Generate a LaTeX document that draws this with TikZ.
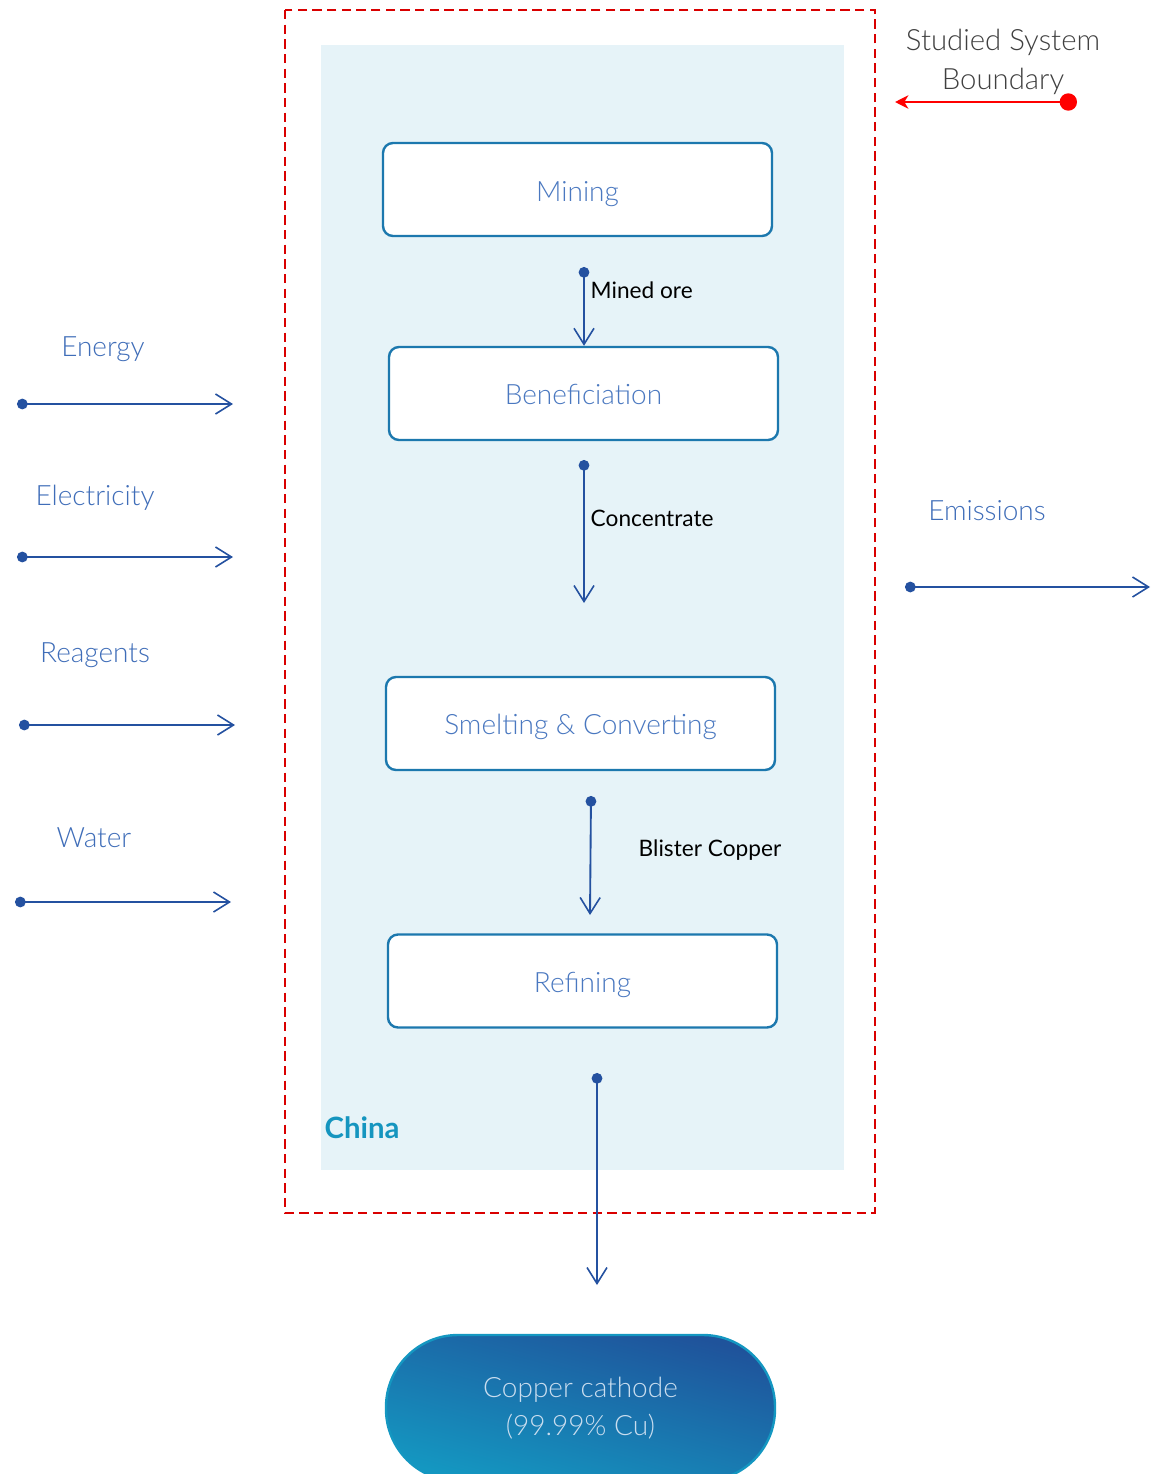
\documentclass[tikz,border=0pt]{standalone}
\usepackage{fontspec}
\setmainfont{Lato}
\newfontfamily\lightfont{Lato Light}
\usetikzlibrary{arrows.meta}
\definecolor{flowblue}{HTML}{2451A0}
\definecolor{labelblue}{HTML}{3F6DB8}
\definecolor{boxtext}{HTML}{4A78C0}
\definecolor{boxedge}{HTML}{1C78AE}
\definecolor{zonefill}{HTML}{E6F3F8}
\definecolor{chinateal}{HTML}{1595BF}
\definecolor{cathtop}{HTML}{1F539B}
\definecolor{cathbot}{HTML}{1497C1}
\definecolor{cathtext}{HTML}{C9DDEF}
\begin{document}
\begin{tikzpicture}[x=0.75pt,y=-0.75pt,
  stagebox/.style={draw=boxedge, line width=1.8pt, fill=white, rounded corners=7.5pt,
    minimum width=291.75pt, minimum height=69.75pt, text=boxtext,
    text height=17pt, text depth=0pt,
    font=\lightfont\fontsize{21}{25}\selectfont},
  flow/.style={draw=flowblue, line width=1.4pt,
    {Circle[length=8pt]}-{Straight Barb[length=12pt,width=15pt,line width=1.2pt]}},
  inlabel/.style={text=labelblue, font=\lightfont\fontsize{21}{25}\selectfont},
  steplabel/.style={text=black, anchor=west, font=\fontsize{17}{20}\selectfont}]
\useasboundingbox (0,0) rectangle (1157,1474);

% system region and its boundary
\fill[zonefill] (321,45) rectangle (844,1170);
\draw[red!85!black, line width=1.5pt, dash pattern=on 7pt off 4pt] (285,10) rectangle (875,1213);
\node[anchor=west, text=chinateal, font=\bfseries\fontsize{22}{26}\selectfont] (china) at (320,1128) {China};

% process stages
\node[stagebox, text height=18pt] (mining) at (577.5,189.5) {Mining};
\node[stagebox] (benef) at (583.5,393.5) {Beneficiation};
\node[stagebox] (smelt) at (580.5,723.5) {Smelting \& Converting};
\node[stagebox] (refin) at (582.5,981) {Refining};

% final product
\node[draw=cathbot, line width=1.8pt, rounded corners=54pt, minimum width=291.75pt,
  minimum height=109.5pt, shading=axis, top color=cathtop, bottom color=cathbot,
  shading angle=-15, text=cathtext, align=center,
  font=\lightfont\fontsize{21}{29}\selectfont] (cathode) at (580.5,1408)
  {Copper cathode\\(99.99\% Cu)};

% internal flows
\coordinate (oreS) at (584,267);
\coordinate (conS) at (584,460);
\coordinate (conE) at (584,603);
\coordinate (blS) at (591,796);
\coordinate (blE) at (590,915);
\coordinate (outS) at (597,1073);
\coordinate (outE) at (597,1285);
\draw[flow] (oreS) -- (oreS |- benef.north);
\draw[flow] (conS) -- (conE);
\draw[flow] (blS) -- (blE);
\draw[flow] (outS) -- (outE);
\node[steplabel] (orelbl) at (586,290) {Mined ore};
\node[steplabel] (conlbl) at (586,518) {Concentrate};
\node[steplabel] (bllbl) at (634,850) {Blister Copper};

% inputs
\coordinate (enS) at (17,404);  \coordinate (enE) at (233,404);
\coordinate (elS) at (17,557);  \coordinate (elE) at (233,557);
\coordinate (reS) at (19,725);  \coordinate (reE) at (235,725);
\coordinate (waS) at (15,902);  \coordinate (waE) at (231,902);
\draw[flow] (enS) -- (enE);
\draw[flow] (elS) -- (elE);
\draw[flow] (reS) -- (reE);
\draw[flow] (waS) -- (waE);
\node[inlabel] (enlbl) at (103,349) {Energy};
\node[inlabel] (ellbl) at (95,498) {Electricity};
\node[inlabel] (relbl) at (95,655) {Reagents};
\node[inlabel] (walbl) at (94,838) {Water};

% outputs
\coordinate (emS) at (905,587); \coordinate (emE) at (1150,587);
\draw[flow] (emS) -- (emE);
\node[inlabel] (emlbl) at (987,511) {Emissions};

% legend
\coordinate (lgS) at (1077,102); \coordinate (lgE) at (895,102);
\draw[red, line width=1.5pt, {Circle[length=13pt]}-{Stealth[length=10pt,width=10pt,inset=3pt]}] (lgS) -- (lgE);
\node[text=black!75, align=center, font=\lightfont\fontsize{22}{29}\selectfont] (lglbl) at (1003,62)
  {Studied System\\Boundary};
\end{tikzpicture}
\end{document}
